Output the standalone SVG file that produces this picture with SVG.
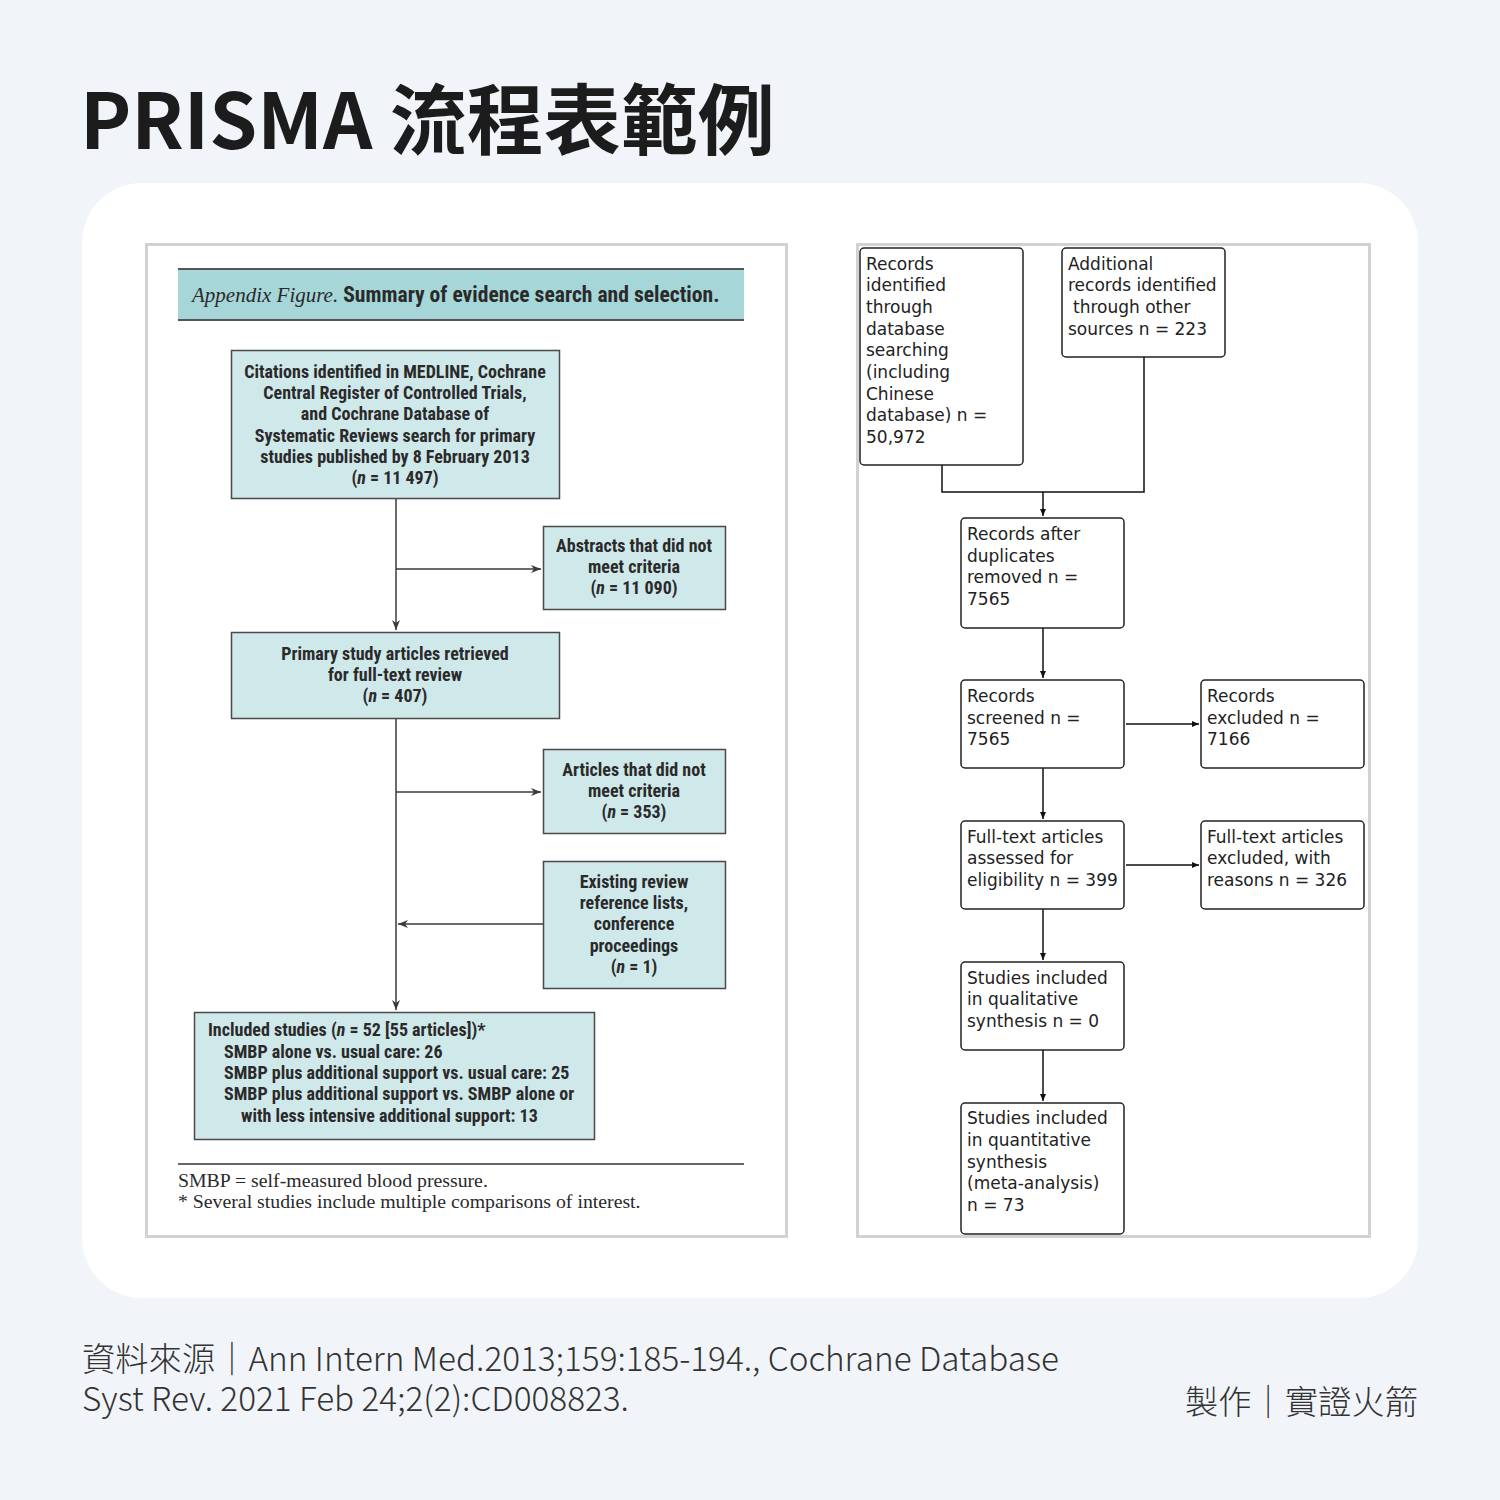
<svg xmlns="http://www.w3.org/2000/svg" width="1500" height="1500" viewBox="0 0 1500 1500">
<defs>
<style>
.title{font-family:"Noto Sans CJK TC","Noto Sans",sans-serif;font-weight:700;font-size:77px;fill:#1c1c1c}
.foot{font-family:"Noto Sans CJK TC","Noto Sans",sans-serif;font-weight:300;font-size:33.3px;fill:#333}
.panel{fill:#fff;stroke:#d2d2d2;stroke-width:3}
.lbox{fill:#cfe8ea;stroke:#4a4a4a;stroke-width:1.5}
.lt{font-family:"Liberation Sans Narrow","Roboto Condensed","Liberation Sans",sans-serif;font-weight:700;font-size:18px;fill:#2a2a2a;text-anchor:middle}
.ltl{font-family:"Liberation Sans Narrow","Roboto Condensed","Liberation Sans",sans-serif;font-weight:700;font-size:18px;fill:#2a2a2a}
.lline{fill:none;stroke:#3a3a3a;stroke-width:1.5}
.serif{font-family:"Liberation Serif",serif;font-size:19.8px;fill:#2a2a2a}
.rbox{fill:#fff;stroke:#222;stroke-width:1.5}
.rt{font-family:"DejaVu Sans",sans-serif;font-size:17px;fill:#222}
.rline{fill:none;stroke:#111;stroke-width:1.5}
</style>
<marker id="la" markerWidth="12" markerHeight="10" refX="10" refY="4" orient="auto" markerUnits="userSpaceOnUse">
<path d="M0,0 L10,4 L0,8 L3,4 z" fill="#3a3a3a"/>
</marker>
<marker id="ra" markerWidth="9" markerHeight="8" refX="7" refY="3" orient="auto" markerUnits="userSpaceOnUse">
<path d="M0,0 L7,3 L0,6 z" fill="#111"/>
</marker>
</defs>
<rect x="0" y="0" width="1500" height="1500" fill="#f1f5f9"/>
<text class="title" x="80" y="149">PRISMA 流程表範例</text>
<rect x="82" y="183" width="1336" height="1115" rx="60" fill="#fff"/>

<!-- Left panel -->
<g id="left-panel">
<rect class="panel" x="146.5" y="244.5" width="640" height="992"/>
<g id="header">
<rect x="178" y="268" width="566" height="53" fill="#a6d6d8"/>
<line x1="178" y1="269" x2="744" y2="269" stroke="#555" stroke-width="2"/>
<line x1="178" y1="320" x2="744" y2="320" stroke="#555" stroke-width="2"/>
<text x="192" y="302"><tspan style="font-family:'Liberation Serif',serif;font-style:italic;font-size:21px;fill:#2a2a2a">Appendix Figure.</tspan><tspan class="ltl" style="font-size:21.6px" dx="5">Summary of evidence search and selection.</tspan></text>
</g>
</g>

<g id="left-connectors">
<line class="lline" x1="396" y1="498" x2="396" y2="630" marker-end="url(#la)"/>
<line class="lline" x1="396" y1="569" x2="541" y2="569" marker-end="url(#la)"/>
<line class="lline" x1="396" y1="719" x2="396" y2="1010" marker-end="url(#la)"/>
<line class="lline" x1="396" y1="792" x2="541" y2="792" marker-end="url(#la)"/>
<line class="lline" x1="543" y1="924" x2="398" y2="924" marker-end="url(#la)"/>
</g>

<g id="l-citations">
<rect class="lbox" x="231.5" y="350.5" width="328" height="148"/>
<text class="lt" x="395" y="378">Citations identified in MEDLINE, Cochrane</text>
<text class="lt" x="395" y="399">Central Register of Controlled Trials,</text>
<text class="lt" x="395" y="420">and Cochrane Database of</text>
<text class="lt" x="395" y="442">Systematic Reviews search for primary</text>
<text class="lt" x="395" y="463">studies published by 8 February 2013</text>
<text class="lt" x="395" y="484">(<tspan font-style="italic">n</tspan> = 11 497)</text>
</g>
<g id="l-abstracts">
<rect class="lbox" x="543.5" y="526.5" width="182" height="83"/>
<text class="lt" x="634" y="552">Abstracts that did not</text>
<text class="lt" x="634" y="573">meet criteria</text>
<text class="lt" x="634" y="594">(<tspan font-style="italic">n</tspan> = 11 090)</text>
</g>
<g id="l-primary">
<rect class="lbox" x="231.5" y="632.5" width="328" height="86"/>
<text class="lt" x="395" y="660">Primary study articles retrieved</text>
<text class="lt" x="395" y="681">for full-text review</text>
<text class="lt" x="395" y="702">(<tspan font-style="italic">n</tspan> = 407)</text>
</g>
<g id="l-articles">
<rect class="lbox" x="543.5" y="749.5" width="182" height="84"/>
<text class="lt" x="634" y="776">Articles that did not</text>
<text class="lt" x="634" y="797">meet criteria</text>
<text class="lt" x="634" y="818">(<tspan font-style="italic">n</tspan> = 353)</text>
</g>
<g id="l-existing">
<rect class="lbox" x="543.5" y="861.5" width="182" height="127"/>
<text class="lt" x="634" y="888">Existing review</text>
<text class="lt" x="634" y="909">reference lists,</text>
<text class="lt" x="634" y="930">conference</text>
<text class="lt" x="634" y="952">proceedings</text>
<text class="lt" x="634" y="973">(<tspan font-style="italic">n</tspan> = 1)</text>
</g>
<g id="l-included">
<rect class="lbox" x="194.5" y="1012.5" width="400" height="127"/>
<text class="ltl" x="208" y="1036">Included studies (<tspan font-style="italic">n</tspan> = 52 [55 articles])*</text>
<text class="ltl" x="224" y="1058">SMBP alone vs. usual care: 26</text>
<text class="ltl" x="224" y="1079">SMBP plus additional support vs. usual care: 25</text>
<text class="ltl" x="224" y="1100">SMBP plus additional support vs. SMBP alone or</text>
<text class="ltl" x="241" y="1122">with less intensive additional support: 13</text>
</g>
<g id="l-footnote">
<line x1="178" y1="1164" x2="744" y2="1164" stroke="#333" stroke-width="1.5"/>
<text class="serif" x="178" y="1187">SMBP = self-measured blood pressure.</text>
<text class="serif" x="178" y="1208">* Several studies include multiple comparisons of interest.</text>
</g>

<!-- Right panel -->
<rect class="panel" x="857.5" y="244.5" width="512" height="992"/>
<g id="right-connectors">
<polyline class="rline" points="942,465 942,492 1144,492 1144,357"/>
<line class="rline" x1="1043" y1="492" x2="1043" y2="516" marker-end="url(#ra)"/>
<line class="rline" x1="1043" y1="628" x2="1043" y2="678" marker-end="url(#ra)"/>
<line class="rline" x1="1126" y1="724" x2="1199" y2="724" marker-end="url(#ra)"/>
<line class="rline" x1="1043" y1="768" x2="1043" y2="819" marker-end="url(#ra)"/>
<line class="rline" x1="1126" y1="865" x2="1199" y2="865" marker-end="url(#ra)"/>
<line class="rline" x1="1043" y1="909" x2="1043" y2="960" marker-end="url(#ra)"/>
<line class="rline" x1="1043" y1="1050" x2="1043" y2="1101" marker-end="url(#ra)"/>
</g>
<g id="r-db">
<rect class="rbox" x="860" y="248" width="163" height="217" rx="4"/>
<text class="rt" x="866" y="270">Records</text>
<text class="rt" x="866" y="291">identified</text>
<text class="rt" x="866" y="313">through</text>
<text class="rt" x="866" y="335">database</text>
<text class="rt" x="866" y="356">searching</text>
<text class="rt" x="866" y="378">(including</text>
<text class="rt" x="866" y="400">Chinese</text>
<text class="rt" x="866" y="421">database) n =</text>
<text class="rt" x="866" y="443">50,972</text>
</g>
<g id="r-other">
<rect class="rbox" x="1062" y="248" width="163" height="109" rx="4"/>
<text class="rt" x="1068" y="270">Additional</text>
<text class="rt" x="1068" y="291">records identified</text>
<text class="rt" x="1073" y="313">through other</text>
<text class="rt" x="1068" y="335">sources n = 223</text>
</g>
<g id="r-dup">
<rect class="rbox" x="961" y="518" width="163" height="110" rx="4"/>
<text class="rt" x="967" y="540">Records after</text>
<text class="rt" x="967" y="562">duplicates</text>
<text class="rt" x="967" y="583">removed n =</text>
<text class="rt" x="967" y="605">7565</text>
</g>
<g id="r-screened">
<rect class="rbox" x="961" y="680" width="163" height="88" rx="4"/>
<text class="rt" x="967" y="702">Records</text>
<text class="rt" x="967" y="724">screened n =</text>
<text class="rt" x="967" y="745">7565</text>
</g>
<g id="r-excluded">
<rect class="rbox" x="1201" y="680" width="163" height="88" rx="4"/>
<text class="rt" x="1207" y="702">Records</text>
<text class="rt" x="1207" y="724">excluded n =</text>
<text class="rt" x="1207" y="745">7166</text>
</g>
<g id="r-fulltext">
<rect class="rbox" x="961" y="821" width="163" height="88" rx="4"/>
<text class="rt" x="967" y="843">Full-text articles</text>
<text class="rt" x="967" y="864">assessed for</text>
<text class="rt" x="967" y="886">eligibility n = 399</text>
</g>
<g id="r-ftexcluded">
<rect class="rbox" x="1201" y="821" width="163" height="88" rx="4"/>
<text class="rt" x="1207" y="843">Full-text articles</text>
<text class="rt" x="1207" y="864">excluded, with</text>
<text class="rt" x="1207" y="886">reasons n = 326</text>
</g>
<g id="r-qual">
<rect class="rbox" x="961" y="962" width="163" height="88" rx="4"/>
<text class="rt" x="967" y="984">Studies included</text>
<text class="rt" x="967" y="1005">in qualitative</text>
<text class="rt" x="967" y="1027">synthesis n = 0</text>
</g>
<g id="r-quant">
<rect class="rbox" x="961" y="1103" width="163" height="131" rx="4"/>
<text class="rt" x="967" y="1124">Studies included</text>
<text class="rt" x="967" y="1146">in quantitative</text>
<text class="rt" x="967" y="1168">synthesis</text>
<text class="rt" x="967" y="1189">(meta-analysis)</text>
<text class="rt" x="967" y="1211">n = 73</text>
</g>

<g id="footer">
<text class="foot" x="82" y="1371">資料來源｜Ann Intern Med.2013;159:185-194., Cochrane Database</text>
<text class="foot" x="82" y="1411">Syst Rev. 2021 Feb 24;2(2):CD008823.</text>
<text class="foot" x="1418" y="1414" text-anchor="end">製作｜實證火箭</text>
</g>
</svg>
